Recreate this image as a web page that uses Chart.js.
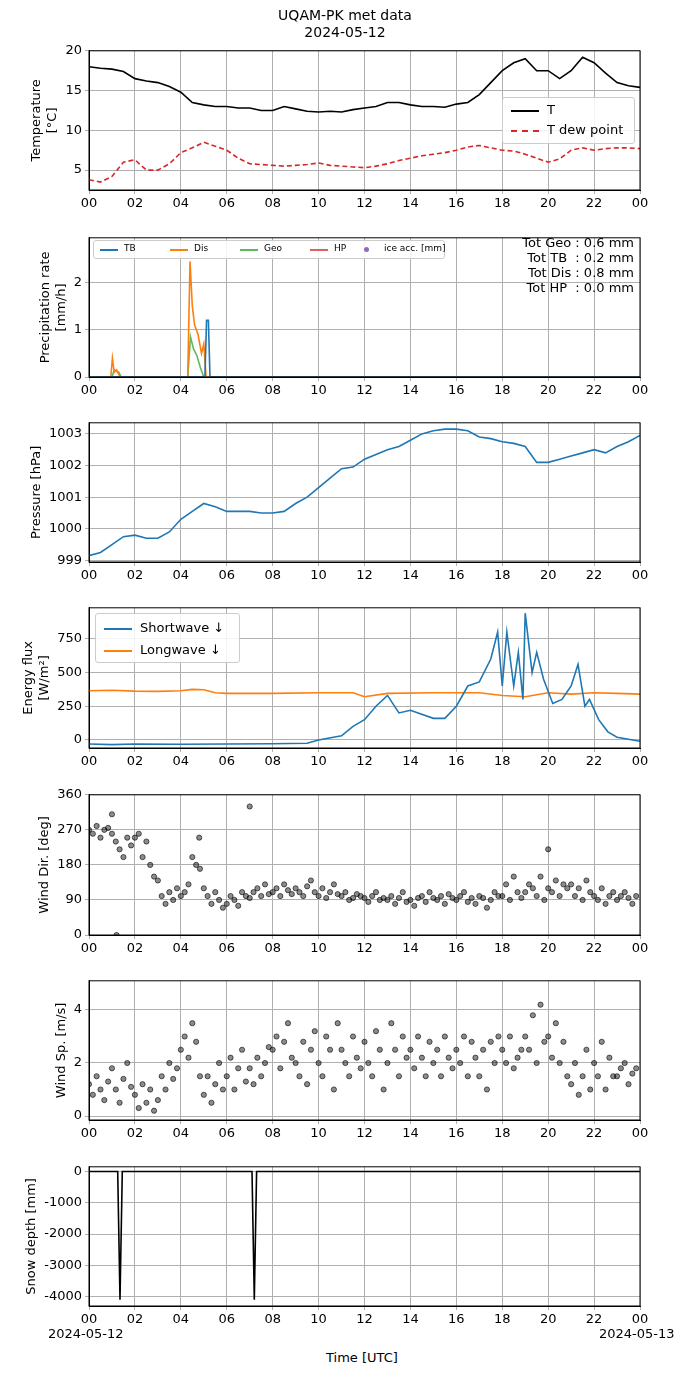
<!DOCTYPE html>
<html><head><meta charset="utf-8">
<script src="https://cdn.jsdelivr.net/npm/chart.js@4/dist/chart.umd.min.js"></script>
<style>
body{margin:0;background:#fff;font-family:"DejaVu Sans",sans-serif;}
#wrap{position:relative;width:690px;height:1377px;}
canvas{position:absolute;left:0;z-index:1;}
.t{position:absolute;font-size:14px;color:#000;white-space:pre;z-index:2;}
.leg{position:absolute;background:rgba(255,255,255,0.85);border:1px solid #ccc;border-radius:3px;z-index:2;}
</style></head><body>
<div id="wrap">
<div class="t" style="left:0;width:690px;text-align:center;top:7px;line-height:17px">UQAM-PK met data
2024-05-12</div>
<div class="t" style="left:48px;top:1326px;font-size:13px">2024-05-12</div>
<div class="t" style="left:599px;top:1326px;font-size:13px">2024-05-13</div>
<div class="t" style="left:326px;top:1350px;font-size:13px">Time [UTC]</div>
<div class="leg" style="left:502px;top:97px;width:131px;height:45px;font-size:13px">
 <div style="position:absolute;left:8px;top:12px;width:28px;border-top:2px solid #000"></div><div class="t" style="left:44px;top:4px;font-size:13px">T</div>
 <div style="position:absolute;left:8px;top:32px;width:28px;border-top:2px dashed #d62728"></div><div class="t" style="left:44px;top:24px;font-size:13px">T dew point</div>
</div>
<div class="leg" style="left:93px;top:240px;width:350px;height:17px;font-size:9px">
 <div style="position:absolute;left:6px;top:8px;width:18px;border-top:2px solid #1f77b4"></div><div class="t" style="left:30px;top:2px;font-size:9px">TB</div>
 <div style="position:absolute;left:76px;top:8px;width:18px;border-top:2px solid #ff7f0e"></div><div class="t" style="left:100px;top:2px;font-size:9px">Dis</div>
 <div style="position:absolute;left:146px;top:8px;width:18px;border-top:2px solid #5cb85c"></div><div class="t" style="left:170px;top:2px;font-size:9px">Geo</div>
 <div style="position:absolute;left:216px;top:8px;width:18px;border-top:2px solid #e06060"></div><div class="t" style="left:240px;top:2px;font-size:9px">HP</div>
 <div style="position:absolute;left:270px;top:6px;width:5px;height:5px;border-radius:3px;background:#9467bd"></div><div class="t" style="left:290px;top:2px;font-size:9px">ice acc. [mm]</div>
</div>
<div class="t" style="left:480px;top:235px;text-align:right;width:154px;font-size:13px;line-height:15px">Tot Geo : 0.6 mm
Tot TB  : 0.2 mm
Tot Dis : 0.8 mm
Tot HP  : 0.0 mm</div>
<div class="leg" style="left:95px;top:613px;width:143px;height:48px">
 <div style="position:absolute;left:8px;top:14px;width:28px;border-top:2px solid #1f77b4"></div><div class="t" style="left:44px;top:6px;font-size:13px">Shortwave ↓</div>
 <div style="position:absolute;left:8px;top:36px;width:28px;border-top:2px solid #ff7f0e"></div><div class="t" style="left:44px;top:28px;font-size:13px">Longwave ↓</div>
</div>
</div>
<script>
const hoursTicks = [0,2,4,6,8,10,12,14,16,18,20,22,24];

const tempX = [0,0.5,1,1.5,2,2.5,3,3.5,4,4.5,5,5.5,6,6.5,7,7.5,8,8.5,9,9.5,10,10.5,11,11.5,12,12.5,13,13.5,14,14.5,15,15.5,16,16.5,17,17.5,18,18.5,19,19.5,20,20.5,21,21.5,22,22.5,23,23.5,24];
const tempT = [18,17.8,17.7,17.4,16.5,16.2,16,15.5,14.8,13.5,13.2,13,13,12.8,12.8,12.5,12.5,13,12.7,12.4,12.3,12.4,12.3,12.6,12.8,13,13.5,13.5,13.2,13,13,12.9,13.3,13.5,14.5,16,17.5,18.5,19,17.5,17.5,16.5,17.5,19.2,18.5,17.2,16,15.6,15.4];
const tempTd = [3.8,3.5,4.2,6,6.3,5,5,5.8,7.2,7.8,8.5,8,7.5,6.5,5.8,5.7,5.6,5.5,5.6,5.7,5.9,5.6,5.5,5.4,5.3,5.5,5.8,6.2,6.5,6.8,7,7.2,7.5,7.9,8.1,7.8,7.5,7.4,7,6.5,6,6.4,7.5,7.8,7.5,7.7,7.8,7.8,7.7];

const precTB = [[0,0],[5.05,0],[5.12,1.2],[5.2,1.2],[5.27,0],[24,0]];
const precDis = [[0,0],[0.95,0],[1.02,0.4],[1.1,0.1],[1.2,0.15],[1.35,0],[4.3,0],[4.4,2.45],[4.5,1.5],[4.6,1.1],[4.75,0.9],[4.9,0.5],[5.0,0.7],[5.1,0],[24,0]];
const precGeo = [[0,0],[1.0,0],[1.1,0.15],[1.3,0.1],[1.4,0],[4.3,0],[4.42,0.85],[4.55,0.6],[4.7,0.45],[4.85,0.2],[5.0,0],[24,0]];
const precHP = [[0,0],[24,0]];

const presX = tempX;
const pres = [999.15,999.25,999.5,999.75,999.8,999.7,999.7,999.9,1000.3,1000.55,1000.8,1000.7,1000.55,1000.55,1000.55,1000.5,1000.5,1000.55,1000.8,1001,1001.3,1001.6,1001.9,1001.95,1002.2,1002.35,1002.5,1002.6,1002.8,1003,1003.1,1003.15,1003.15,1003.1,1002.9,1002.85,1002.75,1002.7,1002.6,1002.1,1002.1,1002.2,1002.3,1002.4,1002.5,1002.4,1002.6,1002.75,1002.95];

const swX = [0,1,2,4,6,8,9.5,10,11,11.5,12,12.5,13,13.5,14,15,15.5,16,16.5,17,17.5,17.8,18,18.2,18.5,18.7,18.9,19,19.3,19.5,19.8,20.2,20.6,21,21.3,21.6,21.8,22.2,22.6,23,24];
const sw = [-30,-35,-30,-32,-30,-28,-25,0,30,100,150,250,330,200,220,160,160,250,400,430,600,800,400,800,400,650,300,940,500,650,450,270,300,400,560,250,300,150,60,20,-10];
const lwX = [0,1,2,3,4,4.5,5,5.5,6,8,10,11.5,12,13,15,17,18,19,20,21,22,23,24];
const lw = [365,368,362,360,365,375,372,350,345,345,350,350,320,345,350,350,330,320,350,340,350,345,340];

const dirHourly = [
 [270,260,280,250,270,275],[260,240,220,200,250,230],[250,260,200,240,180,150],[140,100,80,110,90,120],
 [100,110,130,200,180,170],[120,100,80,110,90,70],[80,100,90,75,110,100],[95,110,120,100,130,105],
 [110,120,100,130,115,105],[120,110,100,125,140,110],[100,120,95,110,130,105],[100,110,90,95,105,100],
 [95,85,100,110,90,95],[90,100,80,95,110,85],[90,75,95,100,85,110],[95,90,100,80,105,95],
 [90,100,110,85,95,80],[100,95,70,90,110,100],[100,130,90,150,110,95],[110,130,120,100,150,90],
 [120,110,140,100,130,120],[130,100,120,90,140,110],[100,90,120,80,100,110],[90,100,110,95,80,100]];
const dirExtra = [[1.2,0],[7.0,330],[20.0,220],[1.0,310],[4.8,250]];
const spdHourly = [
 [1.2,0.8,1.5,1.0,0.6,1.3],[1.8,1.0,0.5,1.4,2.0,1.1],[0.8,0.3,1.2,0.5,1.0,0.2],[0.6,1.5,1.0,2.0,1.4,1.8],
 [2.5,3.0,2.2,3.5,2.8,1.5],[0.8,1.5,0.5,1.2,2.0,1.0],[1.5,2.2,1.0,1.8,2.5,1.3],[1.8,1.2,2.2,1.5,2.0,2.6],
 [2.5,3.0,1.8,2.8,3.5,2.2],[2.0,1.5,2.8,1.2,2.5,3.2],[2.0,1.5,3.0,2.5,1.0,3.5],[2.5,2.0,1.5,3.0,2.2,1.8],
 [2.8,2.0,1.5,3.2,2.5,1.0],[2.0,3.5,2.5,1.5,3.0,2.2],[2.5,1.8,3.0,2.2,1.5,2.8],[2.0,2.5,1.5,3.0,2.2,1.8],
 [2.5,2.0,3.0,1.5,2.8,2.2],[1.5,2.5,1.0,2.8,2.0,3.0],[2.5,2.0,3.0,1.8,2.2,2.5],[3.0,2.5,3.8,2.0,4.2,2.8],
 [3.0,2.2,3.5,2.0,2.8,1.5],[1.2,2.0,0.8,1.5,2.5,1.0],[2.0,1.5,2.8,1.0,2.2,1.5],[1.5,1.8,2.0,1.2,1.6,1.8]];

const snowX = [0,1.25,1.35,1.45,7.1,7.2,7.3,24];
const snow = [0,0,-4100,0,0,-4100,0,0];

function pts(xs, ys){ return xs.map((x,i)=>({x, y:ys[i]})); }
function hourlyPts(h){ const out=[]; h.forEach((row,hr)=>row.forEach((v,k)=>out.push({x:hr+k/6, y:v}))); return out; }

const FONT = '13px "DejaVu Sans", sans-serif';
const boxPlugin = { id:'box', afterDraw(c){ const a=c.chartArea, g=c.ctx; g.save(); g.strokeStyle='#000'; g.lineWidth=1; g.strokeRect(a.left, a.top, a.right-a.left, a.bottom-a.top); g.restore(); } };
// y-axis title placed just left of the tick labels, like matplotlib
const yTitlePlugin = { id:'ytitle', afterDraw(c, args, opts){
  const g=c.ctx, a=c.chartArea, ys=c.scales.y;
  g.save(); g.font=FONT; g.fillStyle='#000';
  let w=0; ys.ticks.forEach(t=>{ w=Math.max(w, g.measureText(String(t.value)).width); });
  const lines = [].concat(opts.text);
  const right = a.left - 4 - 3 - w - 6;
  const cy = (a.top+a.bottom)/2;
  g.translate(right, cy); g.rotate(-Math.PI/2);
  g.textAlign='center'; g.textBaseline='bottom';
  lines.slice().reverse().forEach((s,i)=>g.fillText(s, 0, -i*16));
  g.restore();
}};
Chart.defaults.font.family = '"DejaVu Sans", sans-serif';
Chart.defaults.color = '#000';
Chart.defaults.animation = false;

function panel(top, h, datasets, y){
  const c = document.createElement('canvas');
  c.style.top = (top-10)+'px';
  c.width = 690; c.height = h+45;
  c.style.width='690px'; c.style.height=(h+45)+'px';
  document.getElementById('wrap').appendChild(c);
  new Chart(c, {
    type:'scatter',
    data:{datasets},
    plugins:[boxPlugin, yTitlePlugin],
    options:{
      responsive:false, devicePixelRatio:1,
      layout:{padding:{top:10,right:50,left:0,bottom:0}},
      plugins:{legend:{display:false},tooltip:{enabled:false},ytitle:{text:y.title}},
      scales:{
        x:{type:'linear',min:0,max:24,
           afterBuildTicks:s=>{s.ticks=hoursTicks.map(v=>({value:v}));},
           afterFit:s=>{s.height=35;},
           grid:{color:'#b0b0b0',tickLength:4},border:{color:'#000'},
           ticks:{font:{size:13},padding:2,maxRotation:0,callback:v=>String(v%24).padStart(2,'0')}},
        y:{type:'linear',min:y.min,max:y.max,
           afterBuildTicks:s=>{s.ticks=y.ticks.map(v=>({value:v}));},
           afterFit:s=>{ s.width=89; },
           grid:{color:'#b0b0b0',tickLength:4},border:{color:'#000'},
           ticks:{font:{size:13},padding:3,callback:v=>String(v)}}
      }
    }
  });
}
const line = (data,color,extra) => Object.assign({data,showLine:true,borderColor:color,borderWidth:1.6,pointRadius:0,tension:0},extra||{});

panel(50,140,[
  line(pts(tempX,tempT),'#000'),
  line(pts(tempX,tempTd),'#d62728',{borderDash:[5,3]})
],{min:2.5,max:20,ticks:[5,10,15,20],title:['Temperature','[°C]']});

panel(237,140,[
  line(precTB.map(p=>({x:p[0],y:p[1]})),'#1f77b4'),
  line(precDis.map(p=>({x:p[0],y:p[1]})),'#ff7f0e'),
  line(precGeo.map(p=>({x:p[0],y:p[1]})),'rgba(44,160,44,0.75)'),
  line(precHP.map(p=>({x:p[0],y:p[1]})),'#d62728')
],{min:0,max:2.95,ticks:[0,1,2],title:['Precipitation rate','[mm/h]']});

panel(422,140,[line(pts(presX,pres),'#1f77b4')],
  {min:998.95,max:1003.35,ticks:[999,1000,1001,1002,1003],title:'Pressure [hPa]'});

panel(607,141,[
  line(pts(swX,sw),'#1f77b4'),
  line(pts(lwX,lw),'#ff7f0e')
],{min:-60,max:980,ticks:[0,250,500,750],title:['Energy flux','[W/m²]']});

const dot = {showLine:false,pointRadius:2.6,backgroundColor:'rgba(0,0,0,0.45)',borderColor:'rgba(0,0,0,0.6)',borderWidth:1};
panel(794,141,[Object.assign({data:hourlyPts(dirHourly).concat(dirExtra.map(p=>({x:p[0],y:p[1]})))},dot)],
  {min:0,max:360,ticks:[0,90,180,270,360],title:'Wind Dir. [deg]'});

panel(980,140,[Object.assign({data:hourlyPts(spdHourly)},dot)],
  {min:-0.15,max:5.1,ticks:[0,2,4],title:'Wind Sp. [m/s]'});

panel(1166,140,[line(pts(snowX,snow),'#000')],
  {min:-4300,max:150,ticks:[0,-1000,-2000,-3000,-4000],title:'Snow depth [mm]'});
</script>
</body></html>
